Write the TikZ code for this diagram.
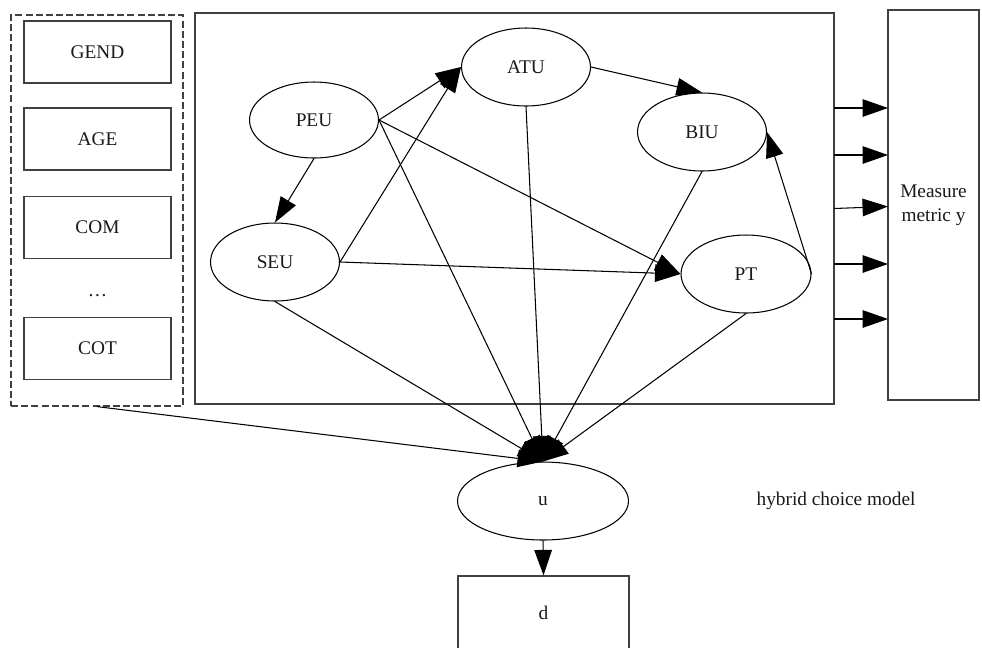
\documentclass[tikz,border=0pt]{standalone}
\usepackage{fontspec}
\setmainfont{Liberation Serif}
\usetikzlibrary{arrows.meta,shapes.geometric}
\begin{document}
\begin{tikzpicture}[x=0.02cm,y=-0.02cm,
  every node/.style={font=\fontsize{11}{13.5}\selectfont, text=black!90},
  ell/.style={draw, ellipse, inner sep=0pt, line width=0.6pt, minimum width=2.58cm, minimum height=1.56cm},
  box/.style={draw=black!75, rectangle, inner sep=0pt, line width=0.7pt},
  edge/.style={line width=0.6pt, -{Triangle[length=14.5pt,width=10pt]}},
  plain/.style={line width=0.6pt}]
\clip (0,0) rectangle (982,647);
\useasboundingbox (0,0) rectangle (982,647);

% left dashed group
\node[box, dash pattern=on 4pt off 1.8pt, minimum width=3.44cm, minimum height=7.82cm] (grp) at (97,210.5) {};
\node[box, minimum width=2.94cm, minimum height=1.24cm] (gend) at (97.5,52) {GEND};
\node[box, minimum width=2.94cm, minimum height=1.24cm] (age) at (97.5,139) {AGE};
\node[box, minimum width=2.94cm, minimum height=1.24cm] (com) at (97.5,227.5) {COM};
\node (dots) at (97.5,296) {\dots};
\node[box, minimum width=2.94cm, minimum height=1.24cm] (cot) at (97.5,348.5) {COT};

% main box
\node[box, minimum width=12.78cm, minimum height=7.82cm] (main) at (514.5,208.5) {};

% right box
\node[box, minimum width=1.82cm, minimum height=7.8cm, align=center] (meas) at (933.5,205) {Measure\\ metric y};

% ellipses
\node[ell, minimum height=1.52cm] (peu) at (314,120) {PEU};
\node[ell] (seu) at (275,262) {SEU};
\node[ell] (atu) at (526,67) {ATU};
\node[ell] (biu) at (702,132) {BIU};
\node[ell, minimum width=2.6cm] (pt) at (746,274) {PT};
\node[ell, minimum width=3.42cm] (u) at (543,501) {u};
\node[box, minimum width=3.42cm, minimum height=1.48cm] (d) at (543.5,613) {d};
\node (hcm) at (836,501) {hybrid choice model};

% edges inside
\draw[edge] (peu.south) -- (seu.north);
\draw[edge] (peu.east) -- (atu.west);
\draw[edge] (seu.east) -- (atu.west);
\draw[edge] (atu.east) -- (biu.north);
\draw[edge] (peu.east) -- (pt.west);
\draw[edge] (seu.east) -- (pt.west);
\draw[edge] (pt.east) -- (biu.east);

% edges to u
\draw[edge] (peu.east) -- (u.north);
\draw[edge] (seu.south) -- (u.north);
\draw[edge] (atu.south) -- (u.north);
\draw[edge] (biu.south) -- (u.north);
\draw[edge] (pt.south) -- (u.north);
\draw[edge] (grp.south) -- (u.north);
\draw[edge] (u.south) -- (d.north);

% arrows to measure box
\coordinate (a1) at (834,108); \coordinate (b1) at (888,108);
\coordinate (a2) at (834,155); \coordinate (b2) at (888,155);
\coordinate (a3) at (834,208.5); \coordinate (b3) at (888,206.5);
\coordinate (a4) at (834,264); \coordinate (b4) at (888,264);
\coordinate (a5) at (834,319); \coordinate (b5) at (888,319);
\foreach \i in {1,...,5} {\draw[edge] (a\i) -- (b\i);}
\end{tikzpicture}
\end{document}
